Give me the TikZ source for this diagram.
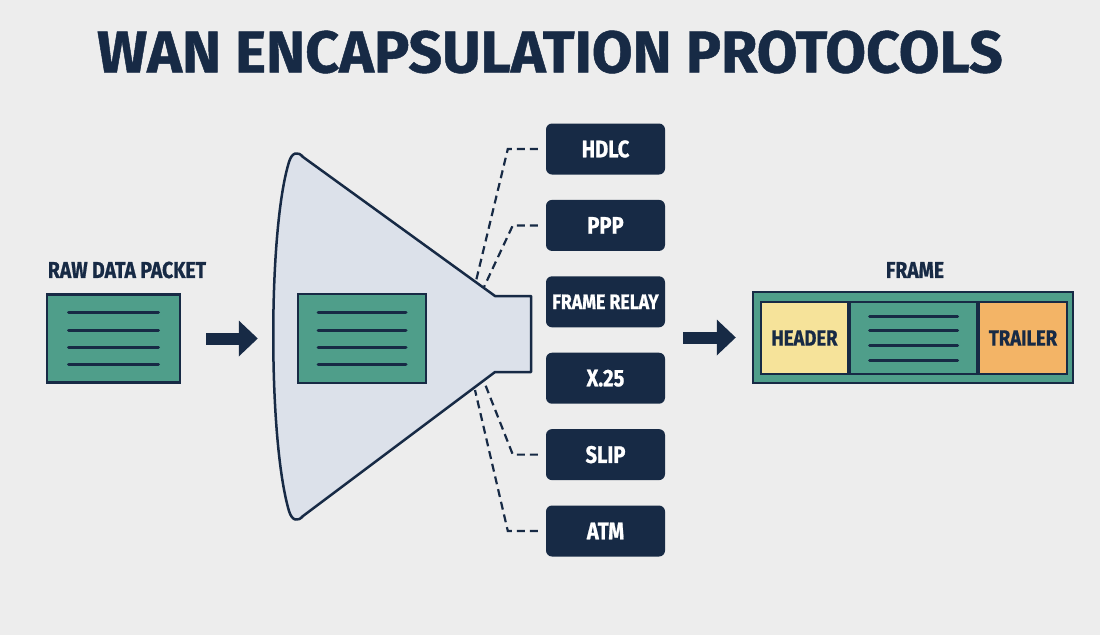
\documentclass[tikz,border=0pt]{standalone}
\usepackage{fontspec}
\setmainfont{Fira Sans}[BoldFeatures={FakeBold=0.8}]
\newfontfamily\condfont[FakeStretch=0.84, BoldFeatures={FakeBold=0.8}]{Fira Sans}
\usepackage{tikz}
\usetikzlibrary{positioning,arrows.meta}
\definecolor{navy}{HTML}{172A45}
\definecolor{pktgreen}{HTML}{4F9E8A}
\definecolor{funnelgray}{HTML}{DCE1EA}
\definecolor{bggray}{HTML}{EDEDED}
\definecolor{hdryellow}{HTML}{F6E39A}
\definecolor{trlorange}{HTML}{F3B466}
\tikzset{
    title/.style={text=navy, font=\bfseries\fontsize{59}{59}\selectfont},
    tagtext/.style={text=navy, font=\condfont\bfseries\fontsize{23}{23}\selectfont},
    packet/.style={rectangle, draw=navy, line width=2.5pt, fill=pktgreen, minimum width=133pt, minimum height=88pt},
    proto/.style={rectangle, fill=navy, rounded corners=6pt, minimum width=119pt, minimum height=51pt, text=white, font=\condfont\bfseries\fontsize{24}{24}\selectfont},
    part/.style={rectangle, draw=navy, line width=2pt, minimum height=72pt, text=navy, font=\condfont\bfseries\fontsize{22}{22}\selectfont},
    funnelbody/.style={draw=navy, line width=2.5pt, fill=funnelgray, line join=round},
    textline/.style={draw=navy, line width=3pt, line cap=round},
    link/.style={draw=navy, line width=2.2pt, dash pattern=on 8pt off 5pt},
    flow/.style={draw=navy, line width=12pt, -{Triangle[length=19pt,width=36pt,line width=0pt]}}
}

\begin{document}
\begin{tikzpicture}[x=1pt, y=-1pt, node distance=25pt]
    \fill[bggray] (0,0) rectangle (1100,635);
    \node[title] (title) at (550,52) {WAN ENCAPSULATION PROTOCOLS};

    % raw packet
    \node[tagtext] (rawtag) at (127,270) {RAW DATA PACKET};
    \node[packet] (raw) at (113.5,338.5) {};
    \foreach \dy in {-26,-8.5,8.5,26}
        \draw[textline] ([xshift=-45pt,yshift=\dy]raw.center) -- ++(90pt,0);

    % funnel
    \draw[funnelbody] (303,157) -- (495,296) -- (531,296) -- (531,372) -- (495,372) -- (303,516)
        .. controls (298,522) and (292,521) .. (289,511)
        .. controls (268,440) and (268,230) .. (289,162)
        .. controls (292,152) and (298,151) .. (303,157) -- cycle;
    \node[packet, minimum width=128pt, minimum height=89pt] (inpkt) at (362,338.5) {};
    \foreach \dy in {-26,-8.5,8.5,26}
        \draw[textline] ([xshift=-44pt,yshift=\dy]inpkt.center) -- ++(88pt,0);
    \coordinate (neck) at (531,337.5);
    \coordinate (e1) at (476,281);
    \coordinate (e2) at (484,287);
    \coordinate (e3) at (485,384);
    \coordinate (e4) at (475,390);

    % protocols
    \node[proto] (hdlc) at (605.5,149) {HDLC};
    \node[proto, below=of hdlc] (ppp) {PPP};
    \node[proto, below=of ppp, font=\condfont\bfseries\fontsize{21}{21}\selectfont] (frelay) {FRAME RELAY};
    \node[proto, below=of frelay] (x25) {X.25};
    \node[proto, below=of x25] (slip) {SLIP};
    \node[proto, below=of slip] (atm) {ATM};

    \draw[link] ([xshift=-8pt]hdlc.west) -- ++(-30pt,0) -- (e1);
    \draw[link] ([xshift=-8pt]ppp.west) -- ++(-25pt,0) -- (e2);
    \draw[link] ([xshift=-8pt]slip.west) -- ++(-25pt,0) -- (e3);
    \draw[link] ([xshift=-8pt]atm.west) -- ++(-30pt,0) -- (e4);

    % frame
    \node[tagtext] (frametag) at (915,270) {FRAME};
    \node[packet, minimum width=320pt, minimum height=91pt] (frame) at (913,337.5) {};
    \node[part, fill=hdryellow, minimum width=87pt] (header) at (804.5,338) {HEADER};
    \node[part, fill=pktgreen, minimum width=127pt, right=0pt of header] (payload) {};
    \node[part, fill=trlorange, minimum width=88pt, right=0pt of payload] (trailer) {TRAILER};
    \foreach \dy in {-22,-7.5,7.5,22}
        \draw[textline] ([xshift=-44pt,yshift=\dy]payload.center) -- ++(88pt,0);

    % arrows
    \draw[flow, shorten <=25pt, shorten >=39pt] (raw.east) -- (inpkt.west |- raw.east);
    \draw[flow, shorten <=152pt, shorten >=16pt] (neck) -- (frame.west);
\end{tikzpicture}
\end{document}
